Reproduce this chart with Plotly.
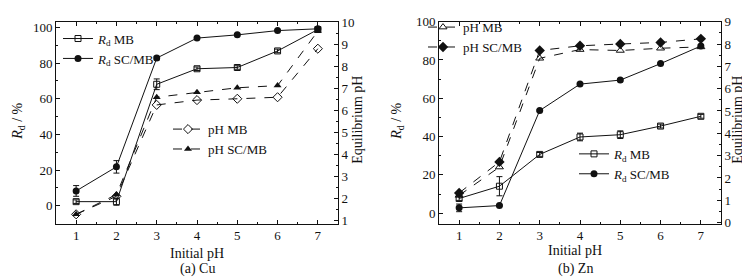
import plotly.graph_objects as go

x_ph = [1, 2, 3, 4, 5, 6, 7]

# (a) Cu
cu_rd_mb = [2.3, 2.3, 68.1, 76.8, 77.5, 86.8, 98.8]
cu_rd_mb_err = [1.0, 2.0, 3.0, 1.0, 1.0, 1.0, 1.0]
cu_rd_scmb = [8.3, 21.8, 82.8, 94.0, 95.8, 98.2, 99.2]
cu_rd_scmb_err = [3.0, 3.5, 1.0, 0.5, 0.5, 0.5, 0.5]
cu_ph_mb = [1.26, 2.08, 6.24, 6.46, 6.52, 6.59, 8.8]
cu_ph_scmb = [1.26, 2.16, 6.59, 6.82, 7.02, 7.12, 9.6]

# (b) Zn
zn_rd_mb = [7.7, 14.1, 30.7, 39.8, 41.0, 45.5, 50.6]
zn_rd_mb_err = [1.0, 5.0, 1.0, 2.0, 2.0, 1.0, 1.0]
zn_rd_scmb = [2.8, 4.0, 53.6, 67.4, 69.5, 78.1, 87.3]
zn_rd_scmb_err = [2.0, 0.5, 0.5, 0.5, 0.5, 0.5, 0.5]
zn_ph_mb = [1.22, 2.49, 7.36, 7.75, 7.71, 7.81, 7.87]
zn_ph_scmb = [1.33, 2.72, 7.71, 7.92, 8.0, 8.07, 8.23]

FONT = "Liberation Serif"
BLK = "#111111"

fig = go.Figure()

def err(vals):
    return dict(type="data", array=vals, visible=True, color=BLK, thickness=1, width=3)

# Left panel traces
fig.add_trace(go.Scatter(x=x_ph, y=cu_rd_mb, mode="lines+markers", name="<i>R</i><sub>d</sub> MB",
    line=dict(color=BLK, width=1), marker=dict(symbol="square-open", size=6, color=BLK, line=dict(width=1)),
    error_y=err(cu_rd_mb_err), xaxis="x", yaxis="y", legend="legend"))
fig.add_trace(go.Scatter(x=x_ph, y=cu_rd_scmb, mode="lines+markers", name="<i>R</i><sub>d</sub> SC/MB",
    line=dict(color=BLK, width=1), marker=dict(symbol="circle", size=7, color=BLK),
    error_y=err(cu_rd_scmb_err), xaxis="x", yaxis="y", legend="legend"))
fig.add_trace(go.Scatter(x=x_ph, y=cu_ph_mb, mode="lines+markers", name="pH MB",
    line=dict(color=BLK, width=1, dash="dash"), marker=dict(symbol="diamond-open", size=7, color=BLK, line=dict(width=1)),
    xaxis="x", yaxis="y2", legend="legend2"))
fig.add_trace(go.Scatter(x=x_ph, y=cu_ph_scmb, mode="lines+markers", name="pH SC/MB",
    line=dict(color=BLK, width=1, dash="dash"), marker=dict(symbol="triangle-up", size=7, color=BLK),
    xaxis="x", yaxis="y2", legend="legend2"))

# Right panel traces
fig.add_trace(go.Scatter(x=x_ph, y=zn_ph_mb, mode="lines+markers", name="pH MB",
    line=dict(color=BLK, width=1, dash="dash"), marker=dict(symbol="triangle-up-open", size=7, color=BLK, line=dict(width=1)),
    xaxis="x2", yaxis="y4", legend="legend3"))
fig.add_trace(go.Scatter(x=x_ph, y=zn_ph_scmb, mode="lines+markers", name="pH SC/MB",
    line=dict(color=BLK, width=1, dash="dash"), marker=dict(symbol="diamond", size=8, color=BLK),
    xaxis="x2", yaxis="y4", legend="legend3"))
fig.add_trace(go.Scatter(x=x_ph, y=zn_rd_mb, mode="lines+markers", name="<i>R</i><sub>d</sub> MB",
    line=dict(color=BLK, width=1), marker=dict(symbol="square-open", size=6, color=BLK, line=dict(width=1)),
    error_y=err(zn_rd_mb_err), xaxis="x2", yaxis="y3", legend="legend4"))
fig.add_trace(go.Scatter(x=x_ph, y=zn_rd_scmb, mode="lines+markers", name="<i>R</i><sub>d</sub> SC/MB",
    line=dict(color=BLK, width=1), marker=dict(symbol="circle", size=7, color=BLK),
    error_y=err(zn_rd_scmb_err), xaxis="x2", yaxis="y3", legend="legend4"))

tickfont = dict(family=FONT, size=13, color=BLK)
common_x = dict(range=[0.5, 7.5], tickvals=x_ph, ticks="inside", ticklen=4, showline=True, linecolor=BLK,
                linewidth=1, mirror="ticks", showgrid=False, zeroline=False, tickfont=tickfont,
                minor=dict(dtick=0.5, ticks="inside", ticklen=2, tickcolor=BLK), tickcolor=BLK)
common_y = dict(ticks="inside", ticklen=4, showline=True, linecolor=BLK, linewidth=1, showgrid=False,
                zeroline=False, tickfont=tickfont, tickcolor=BLK)

ytop = 1 - 7 / 278
ybot = 1 - 219 / 278

def leg(x, y):
    return dict(x=x / 750, y=1 - y / 278, xanchor="left", yanchor="top", bgcolor="rgba(0,0,0,0)",
                font=dict(family=FONT, size=13, color=BLK), tracegroupgap=0, itemwidth=30)

fig.update_layout(
    width=750, height=278, margin=dict(l=0, r=0, t=0, b=0),
    paper_bgcolor="white", plot_bgcolor="white",
    font=dict(family=FONT, size=13, color=BLK),
    xaxis=dict(domain=[48 / 750, 330 / 750], anchor="y", **common_x),
    yaxis=dict(domain=[ybot, ytop], anchor="x", range=[-10.1, 103.2], tickvals=[0, 20, 40, 60, 80, 100],
               minor=dict(dtick=10, ticks="inside", ticklen=2, tickcolor=BLK), **common_y),
    yaxis2=dict(overlaying="y", anchor="x", side="right", range=[0.83, 10.03], tickvals=list(range(1, 11)),
                minor=dict(dtick=0.5, ticks="inside", ticklen=2, tickcolor=BLK), **common_y),
    xaxis2=dict(domain=[431 / 750, 713 / 750], anchor="y3", **common_x),
    yaxis3=dict(domain=[ybot, ytop], anchor="x2", range=[-5.5, 100], tickvals=[0, 20, 40, 60, 80, 100],
                minor=dict(dtick=10, ticks="inside", ticklen=2, tickcolor=BLK), **common_y),
    yaxis4=dict(overlaying="y3", anchor="x2", side="right", range=[-0.05, 9.0], tickvals=list(range(0, 10)),
                minor=dict(dtick=0.5, ticks="inside", ticklen=2, tickcolor=BLK), **common_y),
    legend=leg(50, 9),
    legend2=leg(160, 104),
    legend3=leg(415, -3),
    legend4=leg(566, 130),
    showlegend=True,
)

ann = []
def txt(x, y, t, angle=0, size=14):
    ann.append(dict(x=x / 750, y=1 - y / 278, xref="paper", yref="paper", text=t, showarrow=False,
                    textangle=angle, font=dict(family=FONT, size=size, color=BLK), xanchor="center", yanchor="middle"))

txt(189, 250, "Initial pH")
txt(189, 266, "(a) Cu")
txt(567, 247, "Initial pH")
txt(567, 266, "(b) Zn")
txt(11, 112, "<i>R</i><sub>d</sub> / %", angle=-90)
txt(390, 112, "<i>R</i><sub>d</sub> / %", angle=-90)
txt(350, 110, "Equilibrium pH", angle=-90)
txt(730, 110, "Equilibrium pH", angle=-90)
fig.update_layout(annotations=ann)

fig.write_html("out.html")
